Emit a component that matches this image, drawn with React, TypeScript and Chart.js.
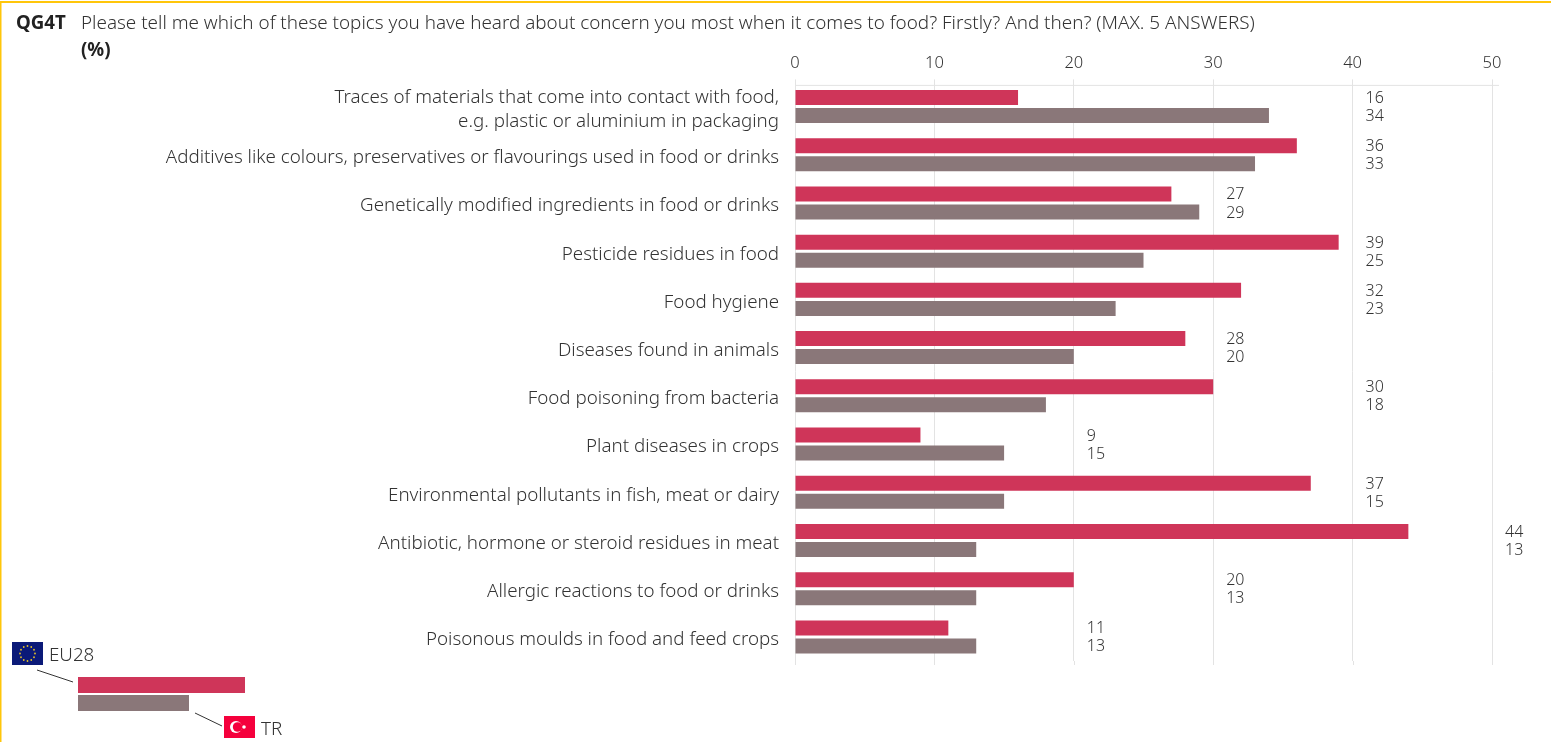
import React, { useEffect, useRef } from "react";
import { Chart, registerables } from "chart.js";

Chart.register(...registerables);

const categories: (string | string[])[] = [
  ["Traces of materials that come into contact with food,", "e.g. plastic or aluminium in packaging"],
  "Additives like colours, preservatives or flavourings used in food or drinks",
  "Genetically modified ingredients in food or drinks",
  "Pesticide residues in food",
  "Food hygiene",
  "Diseases found in animals",
  "Food poisoning from bacteria",
  "Plant diseases in crops",
  "Environmental pollutants in fish, meat or dairy",
  "Antibiotic, hormone or steroid residues in meat",
  "Allergic reactions to food or drinks",
  "Poisonous moulds in food and feed crops",
];
const eu28 = [16, 36, 27, 39, 32, 28, 30, 9, 37, 44, 20, 11];
const tr = [34, 33, 29, 25, 23, 20, 18, 15, 15, 13, 13, 13];

const RED = "#cf3559";
const GREY = "#8a7779";
const INK = "#333333";
const FONT = '"Noto Sans", sans-serif';
const LIGHT = 300;

// Value pairs sit just right of the next gridline past the longer bar.
const valueLabels = {
  id: "valueLabels",
  afterDatasetsDraw(chart: any) {
    const { ctx, scales } = chart;
    ctx.save();
    ctx.font = `${LIGHT} 16px ${FONT}`;
    ctx.fillStyle = INK;
    ctx.textAlign = "left";
    ctx.textBaseline = "middle";
    chart.data.datasets.forEach((ds: any, d: number) => {
      chart.getDatasetMeta(d).data.forEach((bar: any, i: number) => {
        const longest = Math.max(eu28[i], tr[i]);
        const col = (Math.floor(longest / 10) + 1) * 10;
        ctx.fillText(String(ds.data[i]), scales.x.getPixelForValue(col) + 13, bar.y + 1);
      });
    });
    ctx.restore();
  },
};

// Hairline along the top of the plot and short tails below the gridlines.
const frameLines = {
  id: "frameLines",
  beforeDatasetsDraw(chart: any) {
    const { ctx, scales, chartArea } = chart;
    ctx.save();
    ctx.strokeStyle = "#e3e3e3";
    ctx.lineWidth = 1;
    ctx.beginPath();
    ctx.moveTo(chartArea.left, chartArea.top + 3);
    ctx.lineTo(chartArea.right + 7, chartArea.top + 3);
    for (const v of scales.x.ticks) {
      const x = Math.round(scales.x.getPixelForValue(v.value)) + 0.5;
      ctx.moveTo(x, chartArea.bottom);
      ctx.lineTo(x, chartArea.bottom + 4);
    }
    ctx.stroke();
    ctx.restore();
  },
};

function EuFlag({ x, y }: { x: number; y: number }) {
  const stars = Array.from({ length: 12 }, (_, i) => (i * Math.PI) / 6);
  return (
    <g transform={`translate(${x} ${y})`}>
      <rect width={31} height={23} fill="#0b1a78" />
      {stars.map((a, i) => (
        <circle key={i} cx={15.5 + 7.5 * Math.cos(a)} cy={11.5 + 7.5 * Math.sin(a)} r={0.9} fill="#e6c229" />
      ))}
    </g>
  );
}

function TrFlag({ x, y }: { x: number; y: number }) {
  return (
    <g transform={`translate(${x} ${y})`}>
      <rect width={31} height={22} fill="#f5003c" />
      <circle cx={12} cy={11} r={6} fill="#fff" />
      <circle cx={13.6} cy={11} r={4.8} fill="#f5003c" />
      <circle cx={20} cy={11} r={1.8} fill="#fff" />
    </g>
  );
}

export default function App() {
  const ref = useRef<HTMLCanvasElement>(null);

  useEffect(() => {
    const chart = new Chart(ref.current!, {
      type: "bar",
      data: {
        labels: categories as any,
        datasets: [
          { label: "EU28", data: eu28, backgroundColor: RED },
          { label: "TR", data: tr, backgroundColor: GREY },
        ],
      },
      plugins: [valueLabels, frameLines],
      options: {
        indexAxis: "y",
        responsive: false,
        animation: false,
        datasets: { bar: { categoryPercentage: 0.747, barPercentage: 0.833 } },
        layout: { autoPadding: false, padding: { left: 0, top: 0, right: 59, bottom: 81 } },
        plugins: { legend: { display: false }, title: { display: false }, tooltip: { enabled: false } },
        scales: {
          x: {
            position: "top",
            min: 0,
            max: 50,
            ticks: {
              stepSize: 10,
              color: INK,
              padding: 6,
              maxRotation: 0,
              font: { family: FONT, size: 16.5, weight: LIGHT as any },
            },
            border: { display: false },
            grid: { color: "#e3e3e3", tickLength: 3 },
            afterFit: (s: any) => {
              s.height = 82.4;
            },
          },
          y: {
            ticks: {
              color: INK,
              padding: 16,
              autoSkip: false,
              labelOffset: 3,
              font: { family: FONT, size: 18.75, weight: LIGHT as any, lineHeight: 1.28 },
            },
            border: { display: false },
            grid: { display: false, drawTicks: false },
            afterFit: (s: any) => {
              s.width = 795;
            },
          },
        },
      },
    });
    return () => chart.destroy();
  }, []);

  return (
    <div style={{ position: "absolute", left: 0, top: 0, width: 1551, height: 742, background: "#fff", overflow: "hidden" }}>
      <canvas ref={ref} width={1551} height={742} style={{ position: "absolute", left: 0, top: 0 }} />
      <svg width={1551} height={742} style={{ position: "absolute", left: 0, top: 0, fontFamily: FONT }}>
        <rect x={0} y={1} width={1551} height={2} fill="#ffc60a" />
        <rect x={0} y={1} width={1.5} height={741} fill="#ffc60a" />
        <text x={16} y={29} fontSize={18.7} fontWeight={700} fill="#222">QG4T</text>
        <text x={81} y={29} fontSize={18.87} fontWeight={LIGHT} fill={INK}>
          Please tell me which of these topics you have heard about concern you most when it comes to food? Firstly? And then? (MAX. 5 ANSWERS)
        </text>
        <text x={81} y={56} fontSize={18.7} fontWeight={700} fill="#222">(%)</text>

        <EuFlag x={12} y={642} />
        <text x={49} y={661} fontSize={18.75} fontWeight={LIGHT} fill={INK}>EU28</text>
        <line x1={37} y1={670} x2={73} y2={682} stroke="#333" />
        <rect x={78} y={677} width={167} height={16} fill={RED} />
        <rect x={78} y={695} width={111} height={16} fill={GREY} />
        <line x1={195} y1={713} x2={222} y2={726} stroke="#333" />
        <TrFlag x={224} y={716} />
        <text x={261} y={735} fontSize={18.75} fontWeight={LIGHT} fill={INK}>TR</text>
      </svg>
    </div>
  );
}
